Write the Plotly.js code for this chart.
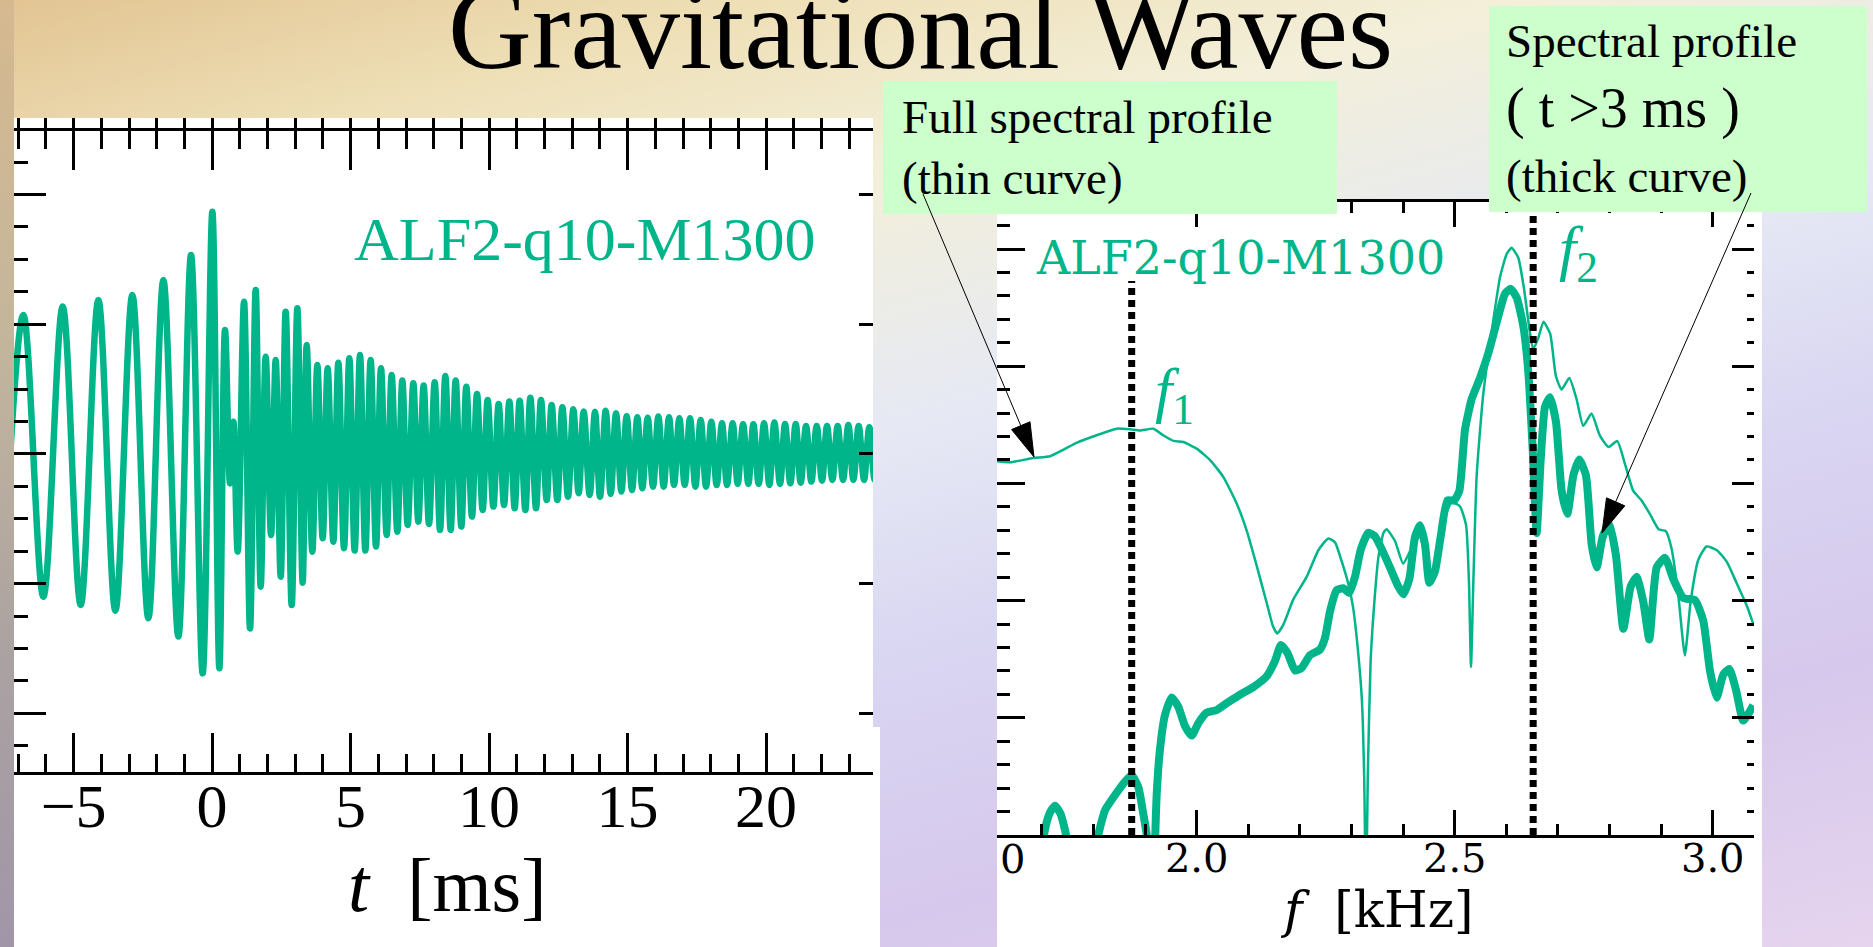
<!DOCTYPE html>
<html>
<head>
<meta charset="utf-8">
<script src="https://cdn.plot.ly/plotly-3.0.1.min.js"></script>
<style>
  html, body { margin:0; padding:0; }
  #wrap { position:relative; width:1873px; height:947px; overflow:hidden;
    background:
      linear-gradient(to bottom, #d6b98f 0%, #c4b69c 35%, #aaa2a2 70%, #a196a8 100%) 0 0 / 14px 100% no-repeat,
      linear-gradient(165deg, #e2c492 0%, #eedfb6 14%, #f3efd9 28%, #e6e9f4 46%, #d9d6f2 62%, #d6c8ec 80%, #e6d4ee 100%);
  }
  #chart { position:absolute; left:0; top:0; width:1873px; height:947px; }
</style>
</head>
<body>
<div id="wrap"><div id="chart"></div></div>
<script>
// ---------------- DATA ----------------
// Left panel: gravitational waveform h (arbitrary units), read as extrema vs. t [ms]
const peakT = [
 -6.815, -5.395, -4.107, -2.88, -1.76, -0.762, 0.009, 0.466, 0.767, 1.152,
 1.573, 1.934, 2.295, 2.656, 3.077, 3.414, 3.799, 4.172, 4.557, 4.954,
 5.339, 5.724, 6.097, 6.482, 6.867, 7.264, 7.637, 8.035, 8.42, 8.793,
 9.178, 9.563, 9.948, 10.345, 10.73, 11.103, 11.488, 11.873, 12.258, 12.644,
 13.04, 13.414, 13.823, 14.209, 14.582, 14.967, 15.352, 15.725, 16.11, 16.495,
 16.868, 17.253, 17.638, 18.023, 18.408, 18.793, 19.167, 19.54, 19.925, 20.298,
 20.683, 21.068, 21.441, 21.826, 22.199, 22.584, 22.969, 23.342, 23.727, 24.11];
const peakH = [
 1.072, 1.136, 1.187, 1.226, 1.342, 1.534, 1.868, 0.956, 0.249, 1.174,
 1.264, 0.75, 0.724, 1.097, 1.123, 0.84, 0.686, 0.661, 0.704, 0.738,
 0.763, 0.725, 0.661, 0.609, 0.566, 0.545, 0.527, 0.553, 0.601, 0.566,
 0.519, 0.463, 0.416, 0.386, 0.404, 0.411, 0.434, 0.416, 0.378, 0.36,
 0.344, 0.327, 0.326, 0.334, 0.314, 0.293, 0.283, 0.28, 0.288, 0.283,
 0.275, 0.275, 0.262, 0.249, 0.236, 0.236, 0.229, 0.229, 0.236, 0.242,
 0.231, 0.231, 0.216, 0.216, 0.216, 0.216, 0.224, 0.216, 0.206, 0.206];
const troughT = [
 -7.55, -6.093, -4.745, -3.493, -2.302, -1.219, -0.341, 0.261, 0.647, 0.923,
 1.369, 1.754, 2.127, 2.476, 2.873, 3.269, 3.618, 3.991, 4.376, 4.761,
 5.146, 5.532, 5.917, 6.302, 6.687, 7.06, 7.445, 7.83, 8.227, 8.612,
 8.997, 9.382, 9.767, 10.153, 10.538, 10.923, 11.308, 11.693, 12.078, 12.463,
 12.848, 13.233, 13.63, 14.004, 14.389, 14.774, 15.159, 15.532, 15.917, 16.302,
 16.676, 17.061, 17.446, 17.831, 18.216, 18.589, 18.974, 19.359, 19.732, 20.117,
 20.502, 20.875, 21.248, 21.633, 22.019, 22.392, 22.777, 23.15, 23.535, 23.92];
const troughH = [
 -1.05, -1.10, -1.164, -1.208, -1.267, -1.408, -1.691, -1.652, -0.227, -0.753,
 -1.345, -1.023, -0.625, -0.946, -1.165, -0.992, -0.753, -0.65, -0.676, -0.727,
 -0.745, -0.745, -0.714, -0.624, -0.599, -0.547, -0.522, -0.54, -0.586, -0.586,
 -0.56, -0.483, -0.432, -0.406, -0.393, -0.419, -0.432, -0.419, -0.355, -0.355,
 -0.329, -0.303, -0.316, -0.329, -0.308, -0.29, -0.278, -0.265, -0.252, -0.252,
 -0.239, -0.239, -0.252, -0.252, -0.239, -0.239, -0.231, -0.231, -0.231, -0.239,
 -0.231, -0.226, -0.221, -0.213, -0.206, -0.2, -0.2, -0.2, -0.2, -0.2];

// Right panel: spectral profiles vs f [kHz] (arbitrary log units)
const thinF = [
 1.612, 1.638, 1.683, 1.716, 1.742, 1.767, 1.806, 1.845, 1.871, 1.890,
 1.916, 1.935, 1.955, 1.974, 2.000, 2.026, 2.052, 2.078, 2.097, 2.116,
 2.136, 2.148, 2.156, 2.168, 2.187, 2.213, 2.236, 2.255, 2.268, 2.281,
 2.294, 2.303, 2.313, 2.320, 2.3245, 2.328, 2.3315, 2.337, 2.344, 2.352,
 2.362, 2.368, 2.384, 2.400, 2.420, 2.433, 2.446, 2.455, 2.465, 2.478,
 2.494, 2.510, 2.522, 2.5276, 2.5315, 2.536, 2.5425, 2.555, 2.572, 2.588,
 2.601, 2.610, 2.623, 2.634, 2.645, 2.652, 2.662, 2.672, 2.685, 2.696,
 2.707, 2.722, 2.736, 2.749, 2.765, 2.781, 2.798, 2.815, 2.830, 2.846,
 2.862, 2.878, 2.895, 2.909, 2.920, 2.933, 2.946, 2.957, 2.972, 2.988,
 3.008, 3.027, 3.046, 3.066, 3.079];
const thinP = [
 3.19, 3.18, 3.216, 3.232, 3.288, 3.346, 3.411, 3.467, 3.461, 3.451,
 3.467, 3.411, 3.363, 3.353, 3.297, 3.199, 3.052, 2.823, 2.595, 2.301,
 1.974, 1.779, 1.72, 1.795, 2.008, 2.203, 2.432, 2.53, 2.497, 2.334,
 2.138, 1.942, 1.55, 1.159, 0.5, -0.6, 0.5, 1.485, 1.974, 2.367,
 2.579, 2.609, 2.511, 2.315, 2.479, 2.544, 2.283, 2.218, 2.381, 2.675,
 2.838, 2.805, 2.642, 2.152, 1.434, 2.152, 3.067, 3.752, 4.308, 4.765,
 4.961, 5.01, 4.928, 4.667, 4.308, 4.144, 4.242, 4.379, 4.275, 3.916,
 3.801, 3.899, 3.72, 3.491, 3.596, 3.41, 3.311, 3.361, 3.164, 2.936,
 2.854, 2.74, 2.609, 2.593, 2.446, 2.054, 1.532, 1.989, 2.348, 2.462,
 2.43, 2.332, 2.152, 1.956, 1.793];
const thickF = [
 1.690, 1.706, 1.716, 1.7255, 1.7364, 1.7468, 1.7577, 1.7933, 1.8094, 1.8223,
 1.8417, 1.8611, 1.874, 1.887, 1.8966, 1.9031, 1.9108, 1.9224, 1.9289, 1.9386,
 1.9515, 1.9644, 1.9773, 1.9903, 2.0032, 2.0193, 2.0387, 2.0581, 2.0839, 2.1097,
 2.1356, 2.1517, 2.1633, 2.1763, 2.1905, 2.2034, 2.2195, 2.2389, 2.2486, 2.2583,
 2.2712, 2.2841, 2.2957, 2.3067, 2.3177, 2.3326, 2.345, 2.3552, 2.3745, 2.3907,
 2.4004, 2.412, 2.423, 2.4327, 2.4424, 2.4508, 2.4617, 2.4727, 2.4856, 2.4986,
 2.5089, 2.5199, 2.5328, 2.549, 2.5651, 2.5812, 2.5974, 2.6084, 2.62, 2.6329,
 2.6426, 2.651, 2.6587, 2.6665, 2.6749, 2.6846, 2.6962, 2.7072, 2.7182, 2.7298,
 2.7414, 2.7543, 2.7653, 2.775, 2.7866, 2.7995, 2.8125, 2.8267, 2.8409, 2.8525,
 2.8654, 2.877, 2.8913, 2.9074, 2.9235, 2.943, 2.9655, 2.9817, 2.9946, 3.0075,
 3.0204, 3.032, 3.045, 3.0592, 3.0785];
const thickP = [
 -0.475, 0.048, 0.195, 0.25, 0.178, 0.0, -0.475, -0.638, 0.0, 0.211,
 0.341, 0.456, 0.511, 0.407, 0.178, 0.0, -1.128, 0.342, 0.733, 1.027,
 1.174, 1.093, 0.929, 0.848, 0.955, 1.044, 1.066, 1.125, 1.197, 1.262,
 1.354, 1.485, 1.622, 1.55, 1.403, 1.426, 1.534, 1.583, 1.681, 1.909,
 2.089, 2.105, 2.066, 2.203, 2.432, 2.579, 2.55, 2.47, 2.283, 2.119,
 2.054, 2.185, 2.544, 2.642, 2.479, 2.152, 2.25, 2.544, 2.854, 2.854,
 2.936, 3.459, 3.72, 3.9, 4.112, 4.373, 4.618, 4.66, 4.585, 4.34,
 3.948, 3.295, 2.577, 3.197, 3.654, 3.736, 3.524, 2.936, 2.74, 3.067,
 3.204, 3.067, 2.479, 2.283, 2.544, 2.658, 2.381, 1.76, 2.12, 2.201,
 1.989, 1.669, 2.283, 2.365, 2.185, 2.022, 2.005, 1.826, 1.401, 1.172,
 1.368, 1.417, 1.238, 0.976, 1.107];
const fPeaks = [1.874, 2.652];          // f1, f2 [kHz]
const fPeakTops = [4.727, 5.40];
const modelName = 'ALF2-q10-M1300';

// ---------------- BUILD ----------------
const W = 1873, H = 947;
const px = x => x / W;
const py = y => 1 - y / H;
const TEAL = '#00b589';

// merge extrema into one time-ordered series
const ext = [];
peakT.forEach((t, i) => ext.push([t, peakH[i]]));
troughT.forEach((t, i) => ext.push([t, troughH[i]]));
ext.sort((a, b) => a[0] - b[0]);

const traces = [
  { x: ext.map(p => p[0]), y: ext.map(p => p[1]), xaxis: 'x', yaxis: 'y',
    mode: 'lines', line: { color: TEAL, width: 6.5, shape: 'spline', smoothing: 1 }, hoverinfo: 'skip' },
  { x: [], y: [], xaxis: 'x3', yaxis: 'y', mode: 'lines', hoverinfo: 'skip' },
  { x: [], y: [], xaxis: 'x', yaxis: 'y3', mode: 'lines', hoverinfo: 'skip' },
  { x: thinF, y: thinP, xaxis: 'x2', yaxis: 'y2', mode: 'lines',
    line: { color: TEAL, width: 2.5, shape: 'spline', smoothing: 0.5 }, hoverinfo: 'skip' },
  { x: thickF, y: thickP, xaxis: 'x2', yaxis: 'y2', mode: 'lines',
    line: { color: TEAL, width: 8, shape: 'spline', smoothing: 0.5 }, hoverinfo: 'skip' },
  { x: [], y: [], xaxis: 'x2', yaxis: 'y4', mode: 'lines', hoverinfo: 'skip' }
];
fPeaks.forEach((f, i) => traces.push({
  x: [f, f], y: [0, fPeakTops[i]], xaxis: 'x2', yaxis: 'y2', mode: 'lines',
  line: { color: 'black', width: 7, dash: '7px,5px' }, hoverinfo: 'skip'
}));

const LRX = [-7.152, 23.859], LRY = [-2.452, 2.490];
const RRX = [1.613, 3.0799], RRY = [0, 5.401];
const common = { showgrid: false, zeroline: false, fixedrange: true, tickcolor: 'black', linecolor: 'black' };

const layout = {
  width: W, height: H, margin: { l: 0, r: 0, t: 0, b: 0 },
  paper_bgcolor: 'rgba(0,0,0,0)', plot_bgcolor: 'rgba(0,0,0,0)', showlegend: false,
  xaxis: Object.assign({}, common, {
    domain: [px(14), px(873)], range: LRX, anchor: 'y',
    showline: true, linewidth: 3, mirror: 'ticks',
    ticks: 'inside', ticklen: 39, tickwidth: 3, tick0: 0, dtick: 5,
    ticklabelstandoff: -22,
    minor: { ticks: 'inside', ticklen: 18, tickwidth: 3, tickcolor: 'black', tick0: 0, dtick: 1 },
    tickfont: { family: 'Liberation Serif', size: 62, color: 'black' }
  }),
  xaxis3: Object.assign({}, common, {
    overlaying: 'x', side: 'top', anchor: 'y', range: LRX,
    ticks: 'outside', ticklen: 12, tickwidth: 3, tick0: 0, dtick: 1,
    showticklabels: false, showline: false
  }),
  yaxis: Object.assign({}, common, {
    domain: [py(772), py(131)], range: LRY, anchor: 'x', showline: false,
    ticks: 'inside', ticklen: 32, tickwidth: 3, tick0: 0, dtick: 1,
    minor: { ticks: 'inside', ticklen: 14, tickwidth: 3, tickcolor: 'black', tick0: 0, dtick: 0.25 },
    showticklabels: false
  }),
  yaxis3: Object.assign({}, common, {
    overlaying: 'y', side: 'right', anchor: 'x', range: LRY,
    ticks: 'inside', ticklen: 14, tickwidth: 3, tick0: 0, dtick: 1,
    showticklabels: false, showline: false
  }),
  xaxis2: Object.assign({}, common, {
    domain: [px(997), px(1754)], range: RRX, anchor: 'y2',
    showline: true, linewidth: 3, mirror: 'ticks',
    ticks: 'inside', ticklen: 25, tickwidth: 3, tick0: 0, dtick: 0.5, tickformat: '.1f',
    ticklabelstandoff: -14,
    minor: { ticks: 'inside', ticklen: 11, tickwidth: 3, tickcolor: 'black', tick0: 0, dtick: 0.1 },
    tickfont: { family: 'DejaVu Serif', size: 40, color: 'black' }
  }),
  yaxis2: Object.assign({}, common, {
    domain: [py(835), py(202)], range: RRY, anchor: 'x2', showline: false,
    ticks: 'inside', ticklen: 28, tickwidth: 3, tick0: 0, dtick: 1,
    minor: { ticks: 'inside', ticklen: 13, tickwidth: 3, tickcolor: 'black', tick0: 0, dtick: 0.2 },
    showticklabels: false
  }),
  yaxis4: Object.assign({}, common, {
    overlaying: 'y2', side: 'right', anchor: 'x2', range: RRY,
    ticks: 'inside', ticklen: 22, tickwidth: 3, tick0: 0, dtick: 1,
    minor: { ticks: 'inside', ticklen: 7, tickwidth: 3, tickcolor: 'black', tick0: 0, dtick: 0.2 },
    showticklabels: false, showline: false
  }),
  shapes: [],
  annotations: []
};

function rect(x0, y0, x1, y1, color, layer) {
  layout.shapes.push({ type: 'rect', xref: 'paper', yref: 'paper',
    x0: px(x0), x1: px(x1), y0: py(y1), y1: py(y0),
    fillcolor: color, line: { width: 0 }, layer: layer });
}
rect(14, 118, 873, 947, 'white', 'below');
rect(14, 727, 880, 947, 'white', 'below');
rect(997, 202, 1762, 947, 'white', 'below');
rect(883, 81, 1337, 214, '#ccffcc', 'above');
rect(1489, 6, 1867, 212, '#ccffcc', 'above');

function arrow(sx, sy, tx, ty) {
  const dx = tx - sx, dy = ty - sy, L = Math.hypot(dx, dy);
  const ux = dx / L, uy = dy / L, nx = -uy, ny = ux;
  const hl = 34, hw = 10;
  const bx = tx - ux * hl, by = ty - uy * hl;
  layout.shapes.push({ type: 'line', xref: 'paper', yref: 'paper',
    x0: px(sx), y0: py(sy), x1: px(bx), y1: py(by), line: { color: 'black', width: 1 }, layer: 'above' });
  layout.shapes.push({ type: 'path', xref: 'paper', yref: 'paper', layer: 'above',
    path: `M ${px(tx)},${py(ty)} L ${px(bx + nx * hw)},${py(by + ny * hw)} L ${px(bx - nx * hw)},${py(by - ny * hw)} Z`,
    fillcolor: 'black', line: { color: 'black', width: 1 } });
}
arrow(923, 194, 1034, 457);
arrow(1751, 193, 1602, 533);

function txt(text, x, y, size, family, color, xanchor) {
  layout.annotations.push({ text: text, xref: 'paper', yref: 'paper', x: px(x), y: py(y),
    xanchor: xanchor || 'center', yanchor: 'middle', showarrow: false,
    font: { family: family, size: size, color: color } });
}
const SERIF = 'Liberation Serif';
txt('Gravitational Waves', 920, 29, 116, SERIF, 'black');
txt(modelName, 585, 239, 62, SERIF, TEAL);
txt('<i>t</i>\u00a0 [ms]', 447, 885, 76, SERIF, 'black');
txt(modelName, 1240, 258, 46, 'DejaVu Serif', TEAL);
txt('<i>f</i><sub>1</sub>', 1174, 394, 62, SERIF, TEAL);
txt('<i>f</i><sub>2</sub>', 1578, 252, 62, SERIF, TEAL);
txt('0', 1013, 859, 40, 'DejaVu Serif', 'black');
txt('<i>f</i>\u00a0 [kHz]', 1377, 910, 50, 'DejaVu Serif', 'black');
txt('Full spectral profile', 900, 117, 47, SERIF, 'black', 'left');
txt('(thin curve)', 900, 178, 47, SERIF, 'black', 'left');
txt('Spectral profile', 1504, 41, 47, SERIF, 'black', 'left');
txt('( t &gt;3 ms )', 1504, 108, 56, SERIF, 'black', 'left');
txt('(thick curve)', 1504, 176, 47, SERIF, 'black', 'left');

Plotly.newPlot('chart', traces, layout, { displayModeBar: false, staticPlot: true });
</script>
</body>
</html>
